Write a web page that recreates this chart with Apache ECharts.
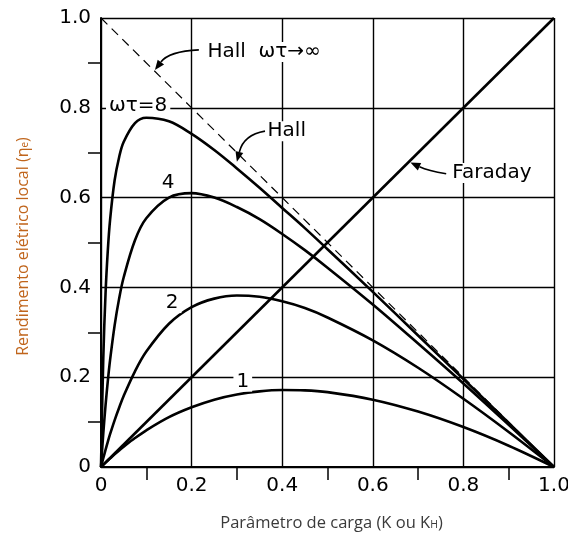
<!DOCTYPE html>
<html><head><meta charset="utf-8">
<script src="https://cdn.jsdelivr.net/npm/echarts@6/dist/echarts.min.js"></script>
<style>html,body{margin:0;padding:0;background:#fff}#c{width:568px;height:533px}</style>
</head><body><div id="c"></div>
<script>
// Load parameter K (shared x values for the Hall curves)
const K      = [0, 0.005, 0.01, 0.015, 0.02, 0.03, 0.04, 0.05, 0.075, 0.1, 0.15, 0.2, 0.25, 0.3, 0.35, 0.4, 0.45, 0.5, 0.6, 0.7, 0.8, 0.9, 1.0];
// Local electrical efficiency
const hall8  = [0, 0.241, 0.386, 0.482, 0.550, 0.638, 0.690, 0.724, 0.766, 0.778, 0.770, 0.742, 0.706, 0.665, 0.622, 0.577, 0.532, 0.485, 0.390, 0.293, 0.196, 0.098, 0];
const hall4  = [0, 0.074, 0.137, 0.191, 0.238, 0.315, 0.375, 0.422, 0.505, 0.554, 0.600, 0.610, 0.600, 0.579, 0.552, 0.519, 0.483, 0.444, 0.362, 0.275, 0.186, 0.094, 0];
const hall2  = [0, 0.0195, 0.038, 0.056, 0.073, 0.104, 0.132, 0.158, 0.213, 0.257, 0.319, 0.356, 0.375, 0.382, 0.379, 0.369, 0.354, 0.333, 0.282, 0.221, 0.152, 0.078, 0];
const hall1  = [0, 0.005, 0.0098, 0.0146, 0.0192, 0.0283, 0.0369, 0.0452, 0.0645, 0.0818, 0.111, 0.133, 0.150, 0.1615, 0.1685, 0.1714, 0.1707, 0.1667, 0.150, 0.1235, 0.0889, 0.0474, 0];
const faradayK   = [0, 1];
const faradayEta = [0, 1];
const hallInfK   = [0, 1];
const hallInfEta = [1, 0];
// Annotation texts and their anchor (data coords)
const noteText = ['ωτ=8', '4', '2', '1', 'Hall  ωτ→∞', 'Hall', 'Faraday'];
const noteX    = [0.082, 0.148, 0.157, 0.313, 0.360, 0.410, 0.863];
const noteY    = [0.805, 0.633, 0.365, 0.190, 0.924, 0.748, 0.655];
// Arrows: start, control, end (data coords)
const arrowStart = [[0.216, 0.929], [0.362, 0.748], [0.762, 0.653]];
const arrowCtrl  = [[0.150, 0.926], [0.315, 0.740], [0.722, 0.660]];
const arrowEnd   = [[0.119, 0.884], [0.300, 0.680], [0.683, 0.678]];

const pairs = (xs, ys) => xs.map((x, i) => [x, ys[i]]);
const fmt = v => v === 0 ? '0' : v.toFixed(1);

const chart = echarts.init(document.getElementById('c'), null, {renderer: 'canvas'});
const axisFont = {color: '#000', fontSize: 20, fontFamily: 'DejaVu Sans'};
const solid = {color: '#000', width: 2.6};

chart.setOption({
  animation: false,
  backgroundColor: '#fff',
  grid: {left: 101, right: 14, top: 18, bottom: 66, containLabel: false, outerBoundsMode: 'none'},
  xAxis: {
    type: 'value', min: 0, max: 1, interval: 0.2,
    axisLine: {show: true, onZero: false, lineStyle: {color: '#000', width: 2}},
    axisTick: {show: false},
    minorTick: {show: true, splitNumber: 2, length: 13, lineStyle: {color: '#000', width: 1.5}},
    splitLine: {show: true, lineStyle: {color: '#000', width: 1.4}},
    axisLabel: Object.assign({margin: 9, formatter: fmt, hideOverlap: false}, axisFont)
  },
  yAxis: {
    type: 'value', min: 0, max: 1, interval: 0.2,
    axisLine: {show: true, onZero: false, lineStyle: {color: '#000', width: 2}},
    axisTick: {show: false},
    minorTick: {show: true, splitNumber: 2, length: 13, lineStyle: {color: '#000', width: 1.5}},
    splitLine: {show: true, lineStyle: {color: '#000', width: 1.4}},
    axisLabel: Object.assign({margin: 10, formatter: fmt, hideOverlap: false}, axisFont)
  },
  series: [
    {type: 'line', data: pairs(K, hall8), smooth: 0.35, symbol: 'none', lineStyle: solid, z: 5},
    {type: 'line', data: pairs(K, hall4), smooth: 0.35, symbol: 'none', lineStyle: solid, z: 5},
    {type: 'line', data: pairs(K, hall2), smooth: 0.35, symbol: 'none', lineStyle: solid, z: 5},
    {type: 'line', data: pairs(K, hall1), smooth: 0.35, symbol: 'none', lineStyle: solid, z: 5},
    {type: 'line', data: pairs(faradayK, faradayEta), symbol: 'none', lineStyle: solid, z: 5},
    {type: 'line', data: pairs(hallInfK, hallInfEta), symbol: 'none', lineStyle: {color: '#000', width: 1.2, type: [9, 6]}, z: 5}
  ]
});

const px = p => chart.convertToPixel({gridIndex: 0}, p);
const graphics = [];
noteText.forEach((t, i) => {
  const p = px([noteX[i], noteY[i]]);
  graphics.push({
    type: 'text', x: p[0], y: p[1], z: 50,
    style: {text: t, font: '20px "DejaVu Sans"', fill: '#000', align: 'center', verticalAlign: 'middle',
            backgroundColor: '#fff', padding: [0, 3]}
  });
});
arrowStart.forEach((s, i) => {
  const a = px(s), c = px(arrowCtrl[i]), e = px(arrowEnd[i]);
  let dx = e[0] - c[0], dy = e[1] - c[1];
  const L = Math.hypot(dx, dy); dx /= L; dy /= L;
  const len = 10, w = 4;
  const b = [e[0] - dx * len, e[1] - dy * len];
  graphics.push({
    type: 'bezierCurve', z: 60,
    shape: {x1: a[0], y1: a[1], cpx1: c[0], cpy1: c[1], x2: b[0], y2: b[1]},
    style: {stroke: '#000', lineWidth: 1.6, fill: null}
  });
  graphics.push({
    type: 'polygon', z: 60,
    shape: {points: [e, [b[0] - dy * w, b[1] + dx * w], [b[0] + dy * w, b[1] - dx * w]]},
    style: {fill: '#000'}
  });
});
// Axis titles
const origin = px([0, 0]), corner = px([1, 1]);
graphics.push({
  type: 'text', x: 23, y: (origin[1] + corner[1]) / 2 + 4, rotation: Math.PI / 2, z: 50,
  style: {
    text: '{a|Rendimento elétrico local (η}{s|e}{a|)}', align: 'center', verticalAlign: 'middle',
    rich: {
      a: {fontSize: 16, fontFamily: 'Open Sans', fill: '#c0651c'},
      s: {fontSize: 10, fontFamily: 'Open Sans', fill: '#c0651c', padding: [5, 0, 0, 0]}
    }
  }
});
graphics.push({
  type: 'text', x: (origin[0] + corner[0]) / 2 + 4, y: origin[1] + 56, z: 50,
  style: {
    text: '{a|Parâmetro de carga (K ou K}{s|H}{a|)}', align: 'center', verticalAlign: 'middle',
    rich: {
      a: {fontSize: 16.5, fontFamily: 'Open Sans', fill: '#3a3a3a'},
      s: {fontSize: 10.5, fontFamily: 'Open Sans', fill: '#3a3a3a', padding: [5, 0, 0, 0]}
    }
  }
});
chart.setOption({graphic: graphics});
</script>
</body></html>
